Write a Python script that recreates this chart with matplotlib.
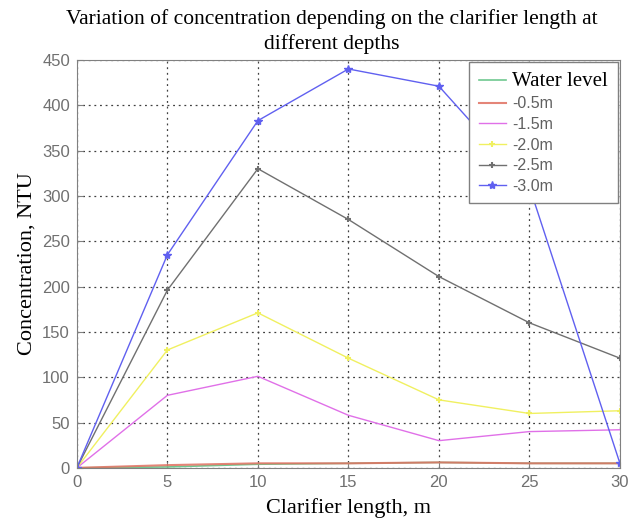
import matplotlib.pyplot as plt

# clarifier length (m)
comprimento = [0, 5, 10, 15, 20, 25, 30]

# concentration (NTU) at each depth
water_level = [0, 1, 4, 5, 6, 5, 5]
prof_05 = [0, 3, 5, 5, 6, 5, 5]
prof_15 = [0, 80, 101, 58, 30, 40, 42]
prof_20 = [0, 130, 171, 121, 75, 60, 63]
prof_25 = [0, 196, 330, 274, 211, 160, 121]
prof_30 = [0, 235, 383, 440, 421, 310, 5]

serif = 'Liberation Serif'
sans = 'Liberation Sans'

fig = plt.figure(figsize=(6.3, 5.21), dpi=100)
ax = fig.add_axes([0.122, 0.102, 0.862, 0.783])

ax.plot(comprimento, water_level, color='#70c890', lw=1.2, label='Water level')
ax.plot(comprimento, prof_05, color='#e07060', lw=1.5, alpha=0.85, label='-0.5m')
ax.plot(comprimento, prof_15, color='#e070e8', lw=1, label='-1.5m')
ax.plot(comprimento, prof_20, color='#f0f060', lw=1, marker='+', ms=5, mew=1.5, label='-2.0m')
ax.plot(comprimento, prof_25, color='#707070', lw=1, marker='+', ms=5, mew=1.5, label='-2.5m')
ax.plot(comprimento, prof_30, color='#6060f0', lw=1, marker='*', ms=6, label='-3.0m')

ax.set_xlim(0, 30)
ax.set_ylim(0, 450)
ax.set_xticks(range(0, 31, 5))
ax.set_yticks(range(0, 451, 50))
ax.grid(True, color='#404040', linestyle=(0, (1.5, 3)), lw=0.9)
for s in ax.spines.values():
    s.set_color('#808080')
ax.tick_params(colors='#808080', labelcolor='#707070', labelsize=12, direction='in',
               length=4, pad=5)
for lbl in ax.get_xticklabels() + ax.get_yticklabels():
    lbl.set_family(sans)

fig.suptitle('Variation of concentration depending on the clarifier length at\ndifferent depths',
             fontfamily=serif, fontsize=15.5, x=0.527, y=0.983, linespacing=1.35)
ax.set_xlabel('Clarifier length, m', fontfamily=serif, fontsize=16, labelpad=6)
ax.set_ylabel('Concentration, NTU', fontfamily=serif, fontsize=16, labelpad=4)

leg = ax.legend(loc='upper right', fancybox=False, edgecolor='#808080', framealpha=1,
                borderaxespad=0.15, borderpad=0.6, handlelength=1.7, handletextpad=0.4,
                labelspacing=0.35, fontsize=11.5)
for i, t in enumerate(leg.get_texts()):
    if i == 0:
        t.set_family(serif)
        t.set_fontsize(15)
    else:
        t.set_family(sans)
        t.set_color('#606060')

fig.savefig('out.png')
